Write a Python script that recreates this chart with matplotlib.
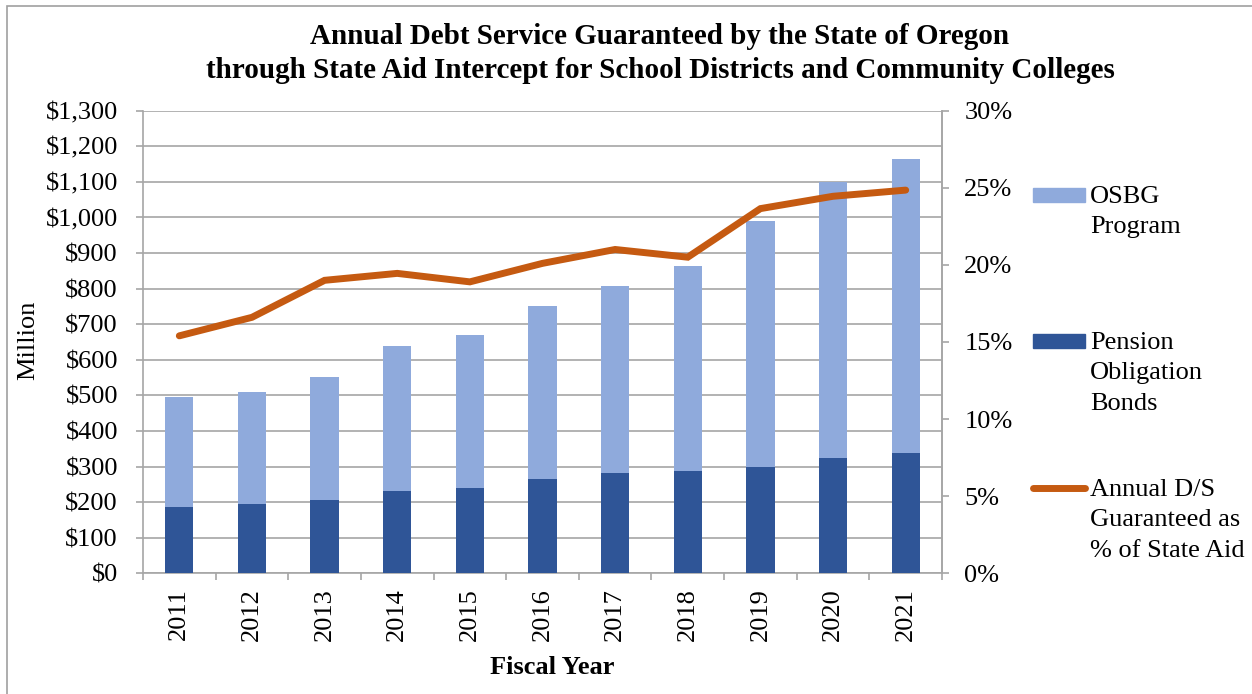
import matplotlib
matplotlib.use("Agg")
import matplotlib.pyplot as plt
from matplotlib.lines import Line2D
from matplotlib.patches import Rectangle
from matplotlib.ticker import FuncFormatter, FixedLocator

# values ($ million, % of state aid)
years = ["2011", "2012", "2013", "2014", "2015", "2016",
         "2017", "2018", "2019", "2020", "2021"]
pob = [187, 195, 205, 230, 241, 265, 282, 288, 299, 325, 339]
total = [496, 510, 553, 638, 669, 752, 808, 863, 989, 1101, 1163]
osbg = [t - p for t, p in zip(total, pob)]
pct_state_aid = [15.4, 16.6, 19.0, 19.45, 18.9, 20.1, 21.0, 20.5, 23.65, 24.45, 24.85]

LIGHT, DARK, ORANGE, GRID = "#8FAADC", "#2F5597", "#C55A11", "#A6A6A6"
FS = 19

plt.rcParams.update({"font.family": ["Liberation Serif", "DejaVu Serif"],
                     "font.size": FS})

W, H = 1252, 694
fig = plt.figure(figsize=(W / 100, H / 100), dpi=100)
ax = fig.add_axes([143 / W, 1 - 573.3 / H, (942 - 143) / W, (573.3 - 110.7) / H])

x = list(range(len(years)))
ax.bar(x, pob, width=0.39, color=DARK, zorder=3)
ax.bar(x, osbg, width=0.39, bottom=pob, color=LIGHT, zorder=3)
ax.set_ylim(0, 1300)
ax.set_xlim(-0.5, len(years) - 0.5)
ax.set_yticks(range(0, 1301, 100))
ax.yaxis.set_major_formatter(FuncFormatter(lambda v, _: f"${v:,.0f}"))
ax.grid(axis="y", color=GRID, lw=1.2, zorder=0)
ax.set_xticks(x)
ax.set_xticklabels(years, rotation=90)
ax.xaxis.set_minor_locator(FixedLocator([i + 0.5 for i in range(-1, len(years))]))
ax.tick_params(axis="x", which="major", length=0, pad=11)
ax.tick_params(axis="x", which="minor", length=5, color=GRID, width=1.2)
ax.tick_params(axis="y", length=5, color=GRID, width=1.2, pad=13)
for side in ["left", "bottom", "right"]:
    ax.spines[side].set_color(GRID)
    ax.spines[side].set_linewidth(1.2)
ax.spines["top"].set_visible(False)

ax2 = ax.twinx()
ax2.plot(x, pct_state_aid, color=ORANGE, lw=5, solid_capstyle="round",
         solid_joinstyle="miter", zorder=4)
ax2.set_ylim(0, 30)
ax2.set_yticks(range(0, 31, 5))
ax2.yaxis.set_major_formatter(FuncFormatter(lambda v, _: f"{v:.0f}%"))
ax2.tick_params(axis="y", length=5, color=GRID, width=1.2, pad=11)
for side in ["left", "bottom", "top"]:
    ax2.spines[side].set_visible(False)
ax2.spines["right"].set_color(GRID)
ax2.spines["right"].set_linewidth(1.2)

# titles
fig.text(660 / W, 1 - 37 / H, "Annual Debt Service Guaranteed by the State of Oregon",
         ha="center", va="center", fontsize=21, fontweight="bold")
fig.text(660 / W, 1 - 70 / H,
         "through State Aid Intercept for School Districts and Community Colleges",
         ha="center", va="center", fontsize=21, fontweight="bold")
fig.text(552 / W, 1 - 668 / H, "Fiscal Year", ha="center", va="center",
         fontsize=FS, fontweight="bold")
fig.text(28 / W, 1 - 340 / H, "Million", ha="center", va="center",
         rotation=90, fontsize=FS)


# legend drawn by hand so the swatch lines up with the first text line
def fy(py):
    return 1 - py / H


LS = 1.5
fig.add_artist(Rectangle((1033 / W, fy(202)), 52 / W, 14 / H,
                         transform=fig.transFigure, color=LIGHT))
fig.text(1090 / W, fy(186), "OSBG\nProgram", ha="left", va="top",
         fontsize=FS, linespacing=LS)
fig.add_artist(Rectangle((1033 / W, fy(348)), 52 / W, 14 / H,
                         transform=fig.transFigure, color=DARK))
fig.text(1090 / W, fy(332), "Pension\nObligation\nBonds", ha="left", va="top",
         fontsize=FS, linespacing=LS)
fig.add_artist(Line2D([1033 / W, 1085 / W], [fy(488), fy(488)], color=ORANGE,
                      lw=5, solid_capstyle="round", transform=fig.transFigure))
fig.text(1090 / W, fy(479), "Annual D/S\nGuaranteed as\n% of State Aid",
         ha="left", va="top", fontsize=FS, linespacing=LS)

# thin chart-area frame
fig.add_artist(Rectangle((7 / W, -0.01), 1.0, fy(6) + 0.01, transform=fig.transFigure,
                         fill=False, edgecolor="#A0A0A0", lw=1.2))

fig.savefig("out.png", dpi=100)
